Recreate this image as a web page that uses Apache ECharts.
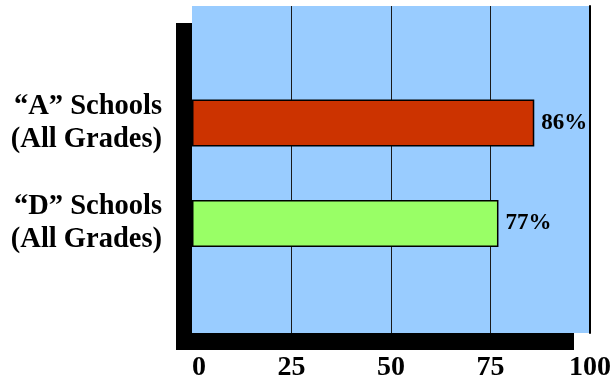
<!DOCTYPE html>
<html>
<head>
<meta charset="utf-8">
<script src="https://cdn.jsdelivr.net/npm/echarts@6/dist/echarts.min.js"></script>
<style>
  html, body { margin: 0; padding: 0; background: #fff; }
  #chart { width: 613px; height: 379px; }
</style>
</head>
<body>
<div id="chart"></div>
<script>
// School groups and the share for each, in percent
const categories = ['\u201cA\u201d Schools\n(All Grades)', '\u201cD\u201d Schools\n(All Grades)'];
const values = [86, 77];
const barColors = ['#CC3300', '#99FF66'];
const axisMin = 0;
const axisMax = 100;
const tickInterval = 25;

const serif = '"Liberation Serif", "Times New Roman", serif';

const chart = echarts.init(document.getElementById('chart'), null, { renderer: 'canvas' });

chart.setOption({
  animation: false,
  grid: [
    // back wall with the value scale
    { left: 192, right: 23, top: 6, bottom: 46, outerBoundsMode: 'none', show: true, backgroundColor: '#99CCFF', borderWidth: 0 },
    // bars
    { left: 192, right: 23, top: 72.75, height: 201, outerBoundsMode: 'none' },
    // dark side wall and floor
    { left: 184, right: 39, top: 23, bottom: 29, outerBoundsMode: 'none' }
  ],
  xAxis: [
    {
      gridIndex: 0, type: 'value', min: axisMin, max: axisMax, interval: tickInterval,
      axisLine: { show: false }, axisTick: { show: false },
      splitLine: { show: true, showMinLine: false, showMaxLine: false, lineStyle: { color: '#1a1a1a', width: 1 } },
      axisLabel: {
        margin: 21, color: '#000', fontSize: 28, fontWeight: 'bold', fontFamily: serif,
        formatter: v => (v === axisMin ? '{z|' + v + '}' : String(v)),
        rich: { z: { padding: [0, 0, 0, 14], color: '#000', fontSize: 28, fontWeight: 'bold', fontFamily: serif } }
      }
    },
    { gridIndex: 1, type: 'value', min: axisMin, max: axisMax, show: false },
    {
      gridIndex: 2, type: 'value', min: 0, max: 1, offset: -8.5, z: 5,
      axisLine: { show: true, onZero: false, lineStyle: { color: '#000', width: 17, cap: 'butt' } },
      axisTick: { show: false }, axisLabel: { show: false }, splitLine: { show: false }
    }
  ],
  yAxis: [
    {
      gridIndex: 0, type: 'value', position: 'right', min: 0, max: 1,
      axisLine: { show: true, onZero: false, lineStyle: { color: '#000', width: 2 } },
      axisTick: { show: false }, axisLabel: { show: false }, splitLine: { show: false }
    },
    {
      gridIndex: 1, type: 'category', data: categories, inverse: true,
      axisLine: { show: false }, axisTick: { show: false }, splitLine: { show: false },
      axisLabel: {
        margin: 30, align: 'right', color: '#000', fontSize: 28.5, fontWeight: 'bold',
        fontFamily: serif, lineHeight: 33
      }
    },
    {
      gridIndex: 2, type: 'value', min: 0, max: 1, z: 5,
      axisLine: { show: true, onZero: false, lineStyle: { color: '#000', width: 16, cap: 'butt' } },
      axisTick: { show: false }, axisLabel: { show: false }, splitLine: { show: false }
    }
  ],
  series: [
    {
      type: 'bar',
      xAxisIndex: 1,
      yAxisIndex: 1,
      barWidth: 47,
      data: values.map((v, i) => ({ value: v, itemStyle: { color: barColors[i] } })),
      itemStyle: { borderColor: '#000', borderWidth: 1.5 },
      label: {
        show: true, position: 'right', distance: 7, formatter: '{c}%',
        color: '#000', fontSize: 23, fontWeight: 'bold', fontFamily: serif
      }
    }
  ]
});
</script>
</body>
</html>
